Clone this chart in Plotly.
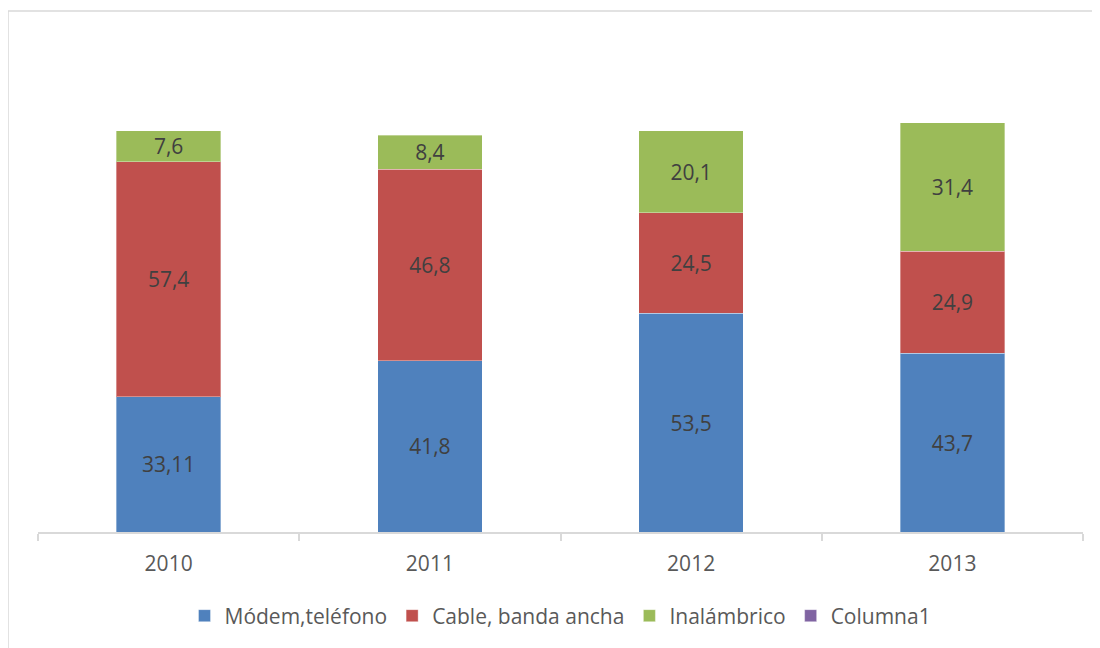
import plotly.graph_objects as go

years = ["2010", "2011", "2012", "2013"]
modem = [33.11, 41.8, 53.5, 43.7]
cable = [57.4, 46.8, 24.5, 24.9]
wireless = [7.6, 8.4, 20.1, 31.4]
columna1 = [None, None, None, None]

series = [
    ("Módem,teléfono", modem, "#4F81BD"),
    ("Cable, banda ancha", cable, "#C0504D"),
    ("Inalámbrico", wireless, "#9BBB59"),
    ("Columna1", columna1, "#8064A2"),
]

def fmt(v):
    return "" if v is None else str(v).replace(".", ",")

# page has an 8px body margin; figure placed at (8, 8)
W, H = 1092, 640
L, R, T, B = 30, 17, 33, 116
pw, ph = W - L - R, H - T - B

fig = go.Figure()
for name, vals, color in series:
    fig.add_trace(go.Bar(
        x=years, y=vals, name=name,
        marker=dict(color=color, line=dict(color="rgba(255,255,255,0.35)", width=1)),
        text=[fmt(v) for v in vals],
        textposition="inside", insidetextanchor="middle", textangle=0,
        constraintext="none",
        insidetextfont=dict(family="Open Sans", size=21, color="#404040"),
        hoverinfo="skip",
    ))

border = dict(color="#d9d9d9", width=1.5)
x_left = (0 - L) / pw
y_top = (ph - (3 - T)) / ph
fig.update_layout(
    barmode="stack",
    bargap=0.6,
    width=W, height=H,
    margin=dict(l=L, r=R, t=T, b=B, autoexpand=False),
    paper_bgcolor="white", plot_bgcolor="white",
    font=dict(family="Open Sans", size=21, color="#595959"),
    showlegend=True,
    legend=dict(orientation="h", x=0.5, xanchor="center", y=(ph - (616 - 8 - T)) / ph,
                yanchor="middle",
                font=dict(size=21, color="#595959"), traceorder="normal",
                itemwidth=30),
    xaxis=dict(type="category", showline=True, linecolor="#d9d9d9", linewidth=1.5,
               ticks="outside", tickson="boundaries", ticklen=7, tickcolor="#d9d9d9",
               tickwidth=1.5, showgrid=False, ticklabelstandoff=12,
               tickfont=dict(size=21, color="#595959")),
    yaxis=dict(range=[0, 120], visible=False, showgrid=False),
    shapes=[
        dict(type="line", xref="paper", yref="paper",
             x0=x_left, x1=(W + 10 - L) / pw, y0=y_top, y1=y_top, line=border),
        dict(type="line", xref="paper", yref="paper",
             x0=x_left, x1=x_left, y0=y_top, y1=(ph - (H + 10 - T)) / ph, line=border),
    ],
)

fig.write_html("out.html")
